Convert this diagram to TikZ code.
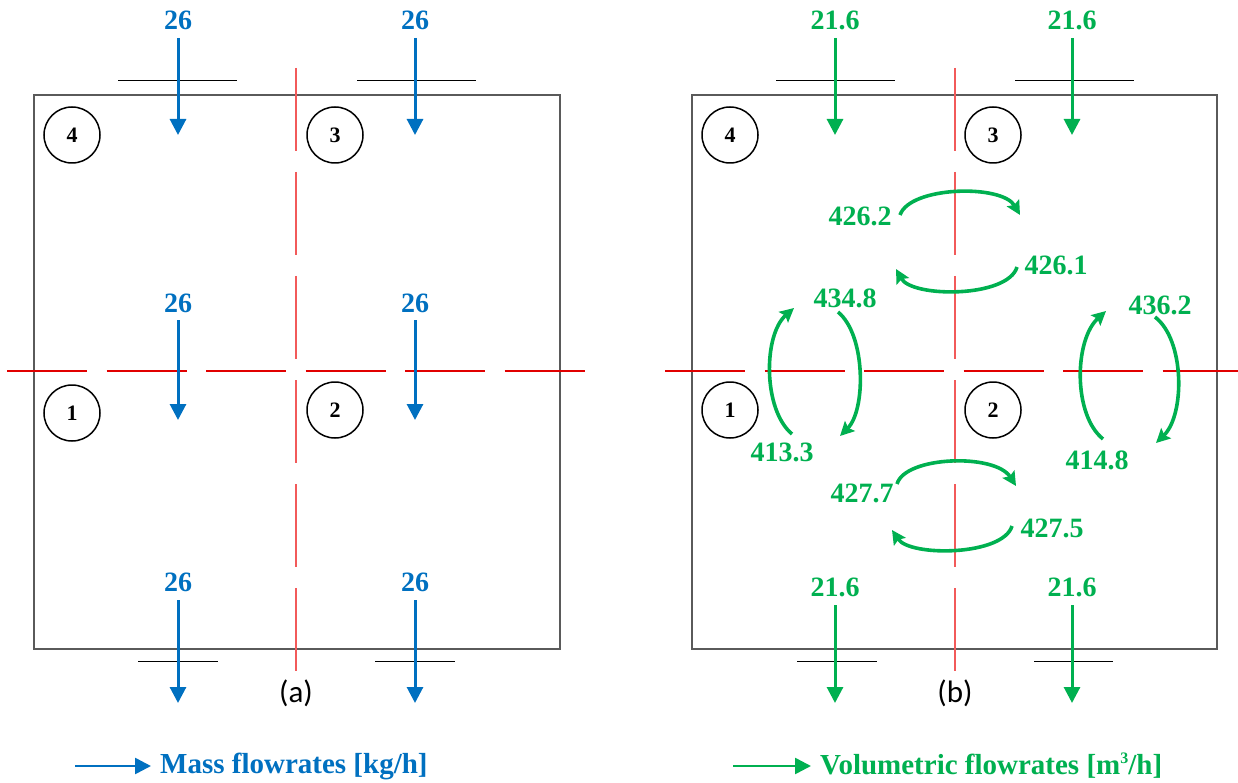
\documentclass[tikz,border=0pt]{standalone}
\usepackage{fontspec}
\setmainfont{Liberation Serif}
\newfontfamily\calib{Carlito}
\usetikzlibrary{arrows.meta}
\definecolor{fblue}{RGB}{0,112,192}
\definecolor{fgreen}{RGB}{0,176,80}
\definecolor{vred}{RGB}{242,90,90}
\definecolor{hred}{RGB}{225,0,0}
\definecolor{boxgray}{RGB}{90,90,90}
\tikzset{
  flowbox/.style={draw=boxgray,line width=1.3pt},
  zonecirc/.style={circle,draw=black,line width=1.5pt,minimum size=56pt,inner sep=0pt,font=\fontsize{22}{22}\selectfont\bfseries},
  sfarrow/.style={line width=3pt,-{Triangle[length=16pt,width=16pt]}},
  crvarrow/.style={draw=fgreen,line width=3.6pt,-{Stealth[length=14pt,width=14pt,inset=2.5pt]}},
  numlbl/.style={font=\fontsize{28}{28}\selectfont\bfseries,inner sep=0pt},
  vdash/.style={draw=vred,line width=1.2pt,dash pattern=on 83pt off 21pt},
  hdash/.style={draw=hred,line width=1.2pt,dash pattern=on 80pt off 19.5pt},
  shortline/.style={draw=black,line width=0.9pt},
  sublbl/.style={font=\calib\fontsize{31}{31}\selectfont,inner sep=0pt},
  legtxt/.style={font=\fontsize{29}{29}\selectfont\bfseries,inner sep=0pt,anchor=west}
}
\begin{document}
\begin{tikzpicture}[x=1pt,y=-1pt]
\useasboundingbox (0,0) rectangle (1238,783);
% ---------------- Panel (a) ----------------
\draw[flowbox] (34,95) rectangle (560,649);
\draw[vdash] (296,68) -- (296,673);
\draw[hdash] (7,371) -- (586,371);
\draw[shortline] (118,80) -- (237,80);
\draw[shortline] (357,80) -- (476,80);
\draw[shortline] (138,661) -- (218,661);
\draw[shortline] (375,661) -- (455,661);
\node[zonecirc] (a4) at (72,135) {4};
\node[zonecirc] (a3) at (335,135) {3};
\node[zonecirc] (a1) at (72,413) {1};
\node[zonecirc] (a2) at (335,410) {2};
\foreach \n/\x/\ly/\ya/\yb in {t1/178/20/38/135, t2/415/20/38/135, m1/178/303/320/420, m2/415/303/320/420, b1/178/582/600/703, b2/415/582/600/703}{
  \node[numlbl,text=fblue] (al\n) at (\x,\ly) {26};
  \coordinate (as\n) at (\x,\ya);
  \coordinate (ae\n) at (\x,\yb);
  \draw[sfarrow,draw=fblue,fill=fblue] (as\n) -- (ae\n);
}
\node[sublbl] (lba) at (296,693) {(a)};
\coordinate (lega1) at (75,766);
\coordinate (lega2) at (151,766);
\draw[sfarrow,draw=fblue,line width=2.6pt] (lega1) -- (lega2);
\node[legtxt,text=fblue] (legat) at (160,766) {Mass flowrates [kg/h]};
% ---------------- Panel (b) ----------------
\draw[flowbox] (692,95) rectangle (1217,649);
\draw[vdash] (955,68) -- (955,673);
\draw[hdash] (665,371) -- (1244,371);
\draw[shortline] (776,80) -- (895,80);
\draw[shortline] (1015,80) -- (1134,80);
\draw[shortline] (797,661) -- (877,661);
\draw[shortline] (1034,661) -- (1113,661);
\node[zonecirc] (b4) at (730,135) {4};
\node[zonecirc] (b3) at (993,135) {3};
\node[zonecirc] (b1) at (730,410) {1};
\node[zonecirc] (b2) at (993,410) {2};
\foreach \n/\x/\ly/\ya/\yb in {t1/835/20/38/135, t2/1072/20/38/135, b1/835/587/605/703, b2/1072/587/605/703}{
  \node[numlbl,text=fgreen] (bl\n) at (\x,\ly) {21.6};
  \coordinate (bs\n) at (\x,\ya);
  \coordinate (be\n) at (\x,\yb);
  \draw[sfarrow,draw=fgreen,fill=fgreen] (bs\n) -- (be\n);
}
% circulation arrows (top)
\coordinate (c1s) at (900,215); \coordinate (c1e) at (1020,215);
\draw[crvarrow] (c1s) .. controls (910,186) and (1002,184) .. (c1e);
\coordinate (c2s) at (1017,267); \coordinate (c2e) at (896,269);
\draw[crvarrow] (c2s) .. controls (1008,298) and (912,298) .. (c2e);
\node[numlbl,text=fgreen] (n4262) at (860,216) {426.2};
\node[numlbl,text=fgreen] (n4261) at (1056,265) {426.1};
% circulation arrows (bottom)
\coordinate (c3s) at (897,484); \coordinate (c3e) at (1016,486);
\draw[crvarrow] (c3s) .. controls (905,456) and (995,453) .. (c3e);
\coordinate (c4s) at (1012,526); \coordinate (c4e) at (892,530);
\draw[crvarrow] (c4s) .. controls (1003,556) and (910,557) .. (c4e);
\node[numlbl,text=fgreen] (n4277) at (862,493) {427.7};
\node[numlbl,text=fgreen] (n4275) at (1052,528) {427.5};
% circulation arrows (left)
\coordinate (c5s) at (792,434); \coordinate (c5e) at (794,308);
\draw[crvarrow] (c5s) .. controls (763,410) and (763,335) .. (c5e);
\coordinate (c6s) at (838,312); \coordinate (c6e) at (840,436);
\draw[crvarrow] (c6s) .. controls (866,335) and (866,410) .. (c6e);
\node[numlbl,text=fgreen] (n4348) at (845,298) {434.8};
\node[numlbl,text=fgreen] (n4133) at (782,452) {413.3};
% circulation arrows (right)
\coordinate (c7s) at (1103,439); \coordinate (c7e) at (1106,311);
\draw[crvarrow] (c7s) .. controls (1073,415) and (1074,340) .. (c7e);
\coordinate (c8s) at (1155,317); \coordinate (c8e) at (1156,443);
\draw[crvarrow] (c8s) .. controls (1185,340) and (1185,415) .. (c8e);
\node[numlbl,text=fgreen] (n4362) at (1160,305) {436.2};
\node[numlbl,text=fgreen] (n4148) at (1097,460) {414.8};
\node[sublbl] (lbb) at (955,693) {(b)};
\coordinate (legb1) at (733,766);
\coordinate (legb2) at (811,766);
\draw[sfarrow,draw=fgreen,line width=2.6pt] (legb1) -- (legb2);
\node[legtxt,text=fgreen] (legbt) at (820,766) {Volumetric flowrates [m\raisebox{0.38em}{\fontsize{16}{16}\selectfont 3}/h]};
\end{tikzpicture}
\end{document}
